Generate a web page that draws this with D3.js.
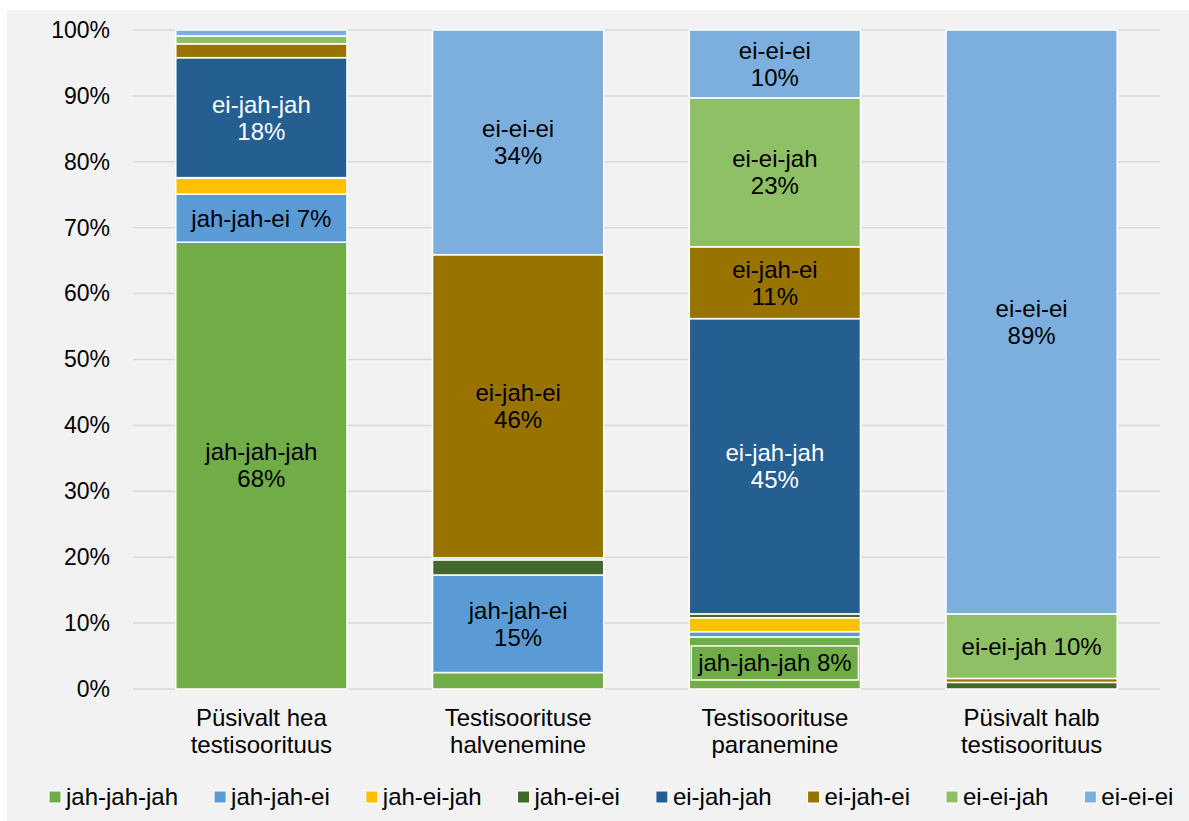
<!DOCTYPE html>
<html>
<head>
<meta charset="utf-8">
<script src="https://cdn.jsdelivr.net/npm/d3@7"></script>
<style>
  html, body { margin: 0; padding: 0; background: #ffffff; }
  svg { display: block; font-family: "Liberation Sans", Arial, sans-serif; }
</style>
</head>
<body>
<svg id="chart" width="1189" height="821"></svg>
<script>
// Test performance groups (x axis)
const categories = [
  "Püsivalt hea testisoorituus",
  "Testisoorituse halvenemine",
  "Testisoorituse paranemine",
  "Püsivalt halb testisoorituus"
];
const categoryLines = [
  ["Püsivalt hea", "testisoorituus"],
  ["Testisoorituse", "halvenemine"],
  ["Testisoorituse", "paranemine"],
  ["Püsivalt halb", "testisoorituus"]
];

// Stacked series, bottom to top (shares in %, one value per group)
const seriesNames = ["jah-jah-jah", "jah-jah-ei", "jah-ei-jah", "jah-ei-ei",
                     "ei-jah-jah", "ei-jah-ei", "ei-ei-jah", "ei-ei-ei"];
const jahJahJah = [67.8, 2.5, 7.9, 0];
const jahJahEi  = [7.3, 14.8, 0.8, 0];
const jahEiJah  = [2.4, 0, 2.1, 0];
const jahEiEi   = [0.1, 2.3, 0.6, 1.0];
const eiJahJah  = [18.2, 0.3, 44.8, 0];
const eiJahEi   = [2.1, 46.0, 10.9, 0.6];
const eiEiJah   = [1.2, 0, 22.6, 9.8];
const eiEiEi    = [0.9, 34.1, 10.3, 88.6];

const yTicks = [0, 10, 20, 30, 40, 50, 60, 70, 80, 90, 100];

// Labels drawn on a filled box of their own
const boxedLabels = [["Testisoorituse paranemine", "jah-jah-jah"]];

const colors = ["#70ad47", "#5b9bd5", "#ffc000", "#43682b",
                "#255e91", "#997300", "#8fc065", "#7cafdd"];
const labelColors = ["#000", "#000", "#000", "#000", "#fff", "#000", "#000", "#000"];

const seriesValues = [jahJahJah, jahJahEi, jahEiJah, jahEiEi, eiJahJah, eiJahEi, eiEiJah, eiEiEi];
const table = categories.map((c, i) => {
  const row = { category: c };
  seriesNames.forEach((s, j) => { row[s] = seriesValues[j][i]; });
  return row;
});

const svg = d3.select("#chart");
const FONT = 24;
const TICK_FONT = 23;

svg.append("rect").attr("x", 7).attr("y", 10).attr("width", 1182).attr("height", 811)
  .attr("fill", "#f2f2f2");

const x = d3.scaleBand().domain(categories).range([133, 1160])
  .paddingInner(1 / 3).paddingOuter(1 / 6);
const y = d3.scaleLinear().domain([0, 100]).range([689, 30]);
const color = d3.scaleOrdinal().domain(seriesNames).range(colors);

// gridlines
svg.append("g").selectAll("line").data(yTicks).join("line")
  .attr("x1", 133).attr("x2", 1160)
  .attr("y1", d => y(d)).attr("y2", d => y(d))
  .attr("stroke", "#d9d9d9").attr("stroke-width", 1.5);

// y axis labels
const yAxis = d3.axisLeft(y).tickValues(yTicks).tickFormat(d => d + "%").tickSize(0).tickPadding(0);
const yg = svg.append("g").attr("transform", "translate(110,0)").call(yAxis);
yg.select(".domain").remove();
yg.selectAll("text").attr("font-size", TICK_FONT).attr("fill", "#000")
  .attr("font-family", "'Liberation Sans', Arial, sans-serif");

// stacked bars
const stack = d3.stack().keys(seriesNames);
const layers = stack(table);

const gBars = svg.append("g");
layers.forEach((layer, si) => {
  gBars.append("g").selectAll("rect")
    .data(layer.filter(d => d[1] - d[0] > 0))
    .join("rect")
    .attr("x", d => x(d.data.category))
    .attr("width", x.bandwidth())
    .attr("y", d => y(d[1]))
    .attr("height", d => y(d[0]) - y(d[1]))
    .attr("fill", color(layer.key))
    .attr("stroke", "#ffffff").attr("stroke-width", 1.5);
});

// data labels (segments of 5% and more)
const gLabels = svg.append("g");
layers.forEach((layer, si) => {
  layer.forEach(d => {
    const v = d[1] - d[0];
    if (v < 5) return;
    const cx = x(d.data.category) + x.bandwidth() / 2;
    const cy = (y(d[0]) + y(d[1])) / 2;
    const pct = Math.round(v) + "%";
    const boxed = boxedLabels.some(b => b[0] === d.data.category && b[1] === layer.key);
    if (boxed) {
      gLabels.append("rect")
        .attr("x", x(d.data.category) + 2).attr("width", x.bandwidth() - 4)
        .attr("y", cy - 17).attr("height", 34)
        .attr("fill", color(layer.key)).attr("stroke", "#fff").attr("stroke-width", 1.5);
    }
    const t = gLabels.append("text")
      .attr("x", cx).attr("text-anchor", "middle")
      .attr("font-size", FONT).attr("fill", labelColors[si]);
    if (v < 10) {
      t.attr("y", cy).attr("dy", "0.35em").text(layer.key + " " + pct);
    } else {
      t.append("tspan").attr("x", cx).attr("y", cy - 13.5).attr("dy", "0.35em").text(layer.key);
      t.append("tspan").attr("x", cx).attr("y", cy + 13.5).attr("dy", "0.35em").text(pct);
    }
  });
});

// category labels
const gCat = svg.append("g");
categories.forEach((c, i) => {
  const cx = x(c) + x.bandwidth() / 2;
  categoryLines[i].forEach((line, li) => {
    gCat.append("text").attr("x", cx).attr("y", 718 + li * 27).attr("dy", "0.35em")
      .attr("text-anchor", "middle").attr("font-size", FONT).attr("fill", "#000").text(line);
  });
});

// legend
const gLeg = svg.append("g");
let lx = 49;
seriesNames.forEach((s, i) => {
  gLeg.append("rect").attr("x", lx).attr("y", 791).attr("width", 12).attr("height", 12)
    .attr("fill", color(s)).attr("stroke", "#fff").attr("stroke-width", 1);
  const t = gLeg.append("text").attr("x", lx + 17).attr("y", 797).attr("dy", "0.35em")
    .attr("font-size", FONT).attr("fill", "#000").text(s);
  lx += 17 + t.node().getComputedTextLength() + 36;
});
</script>
</body>
</html>
